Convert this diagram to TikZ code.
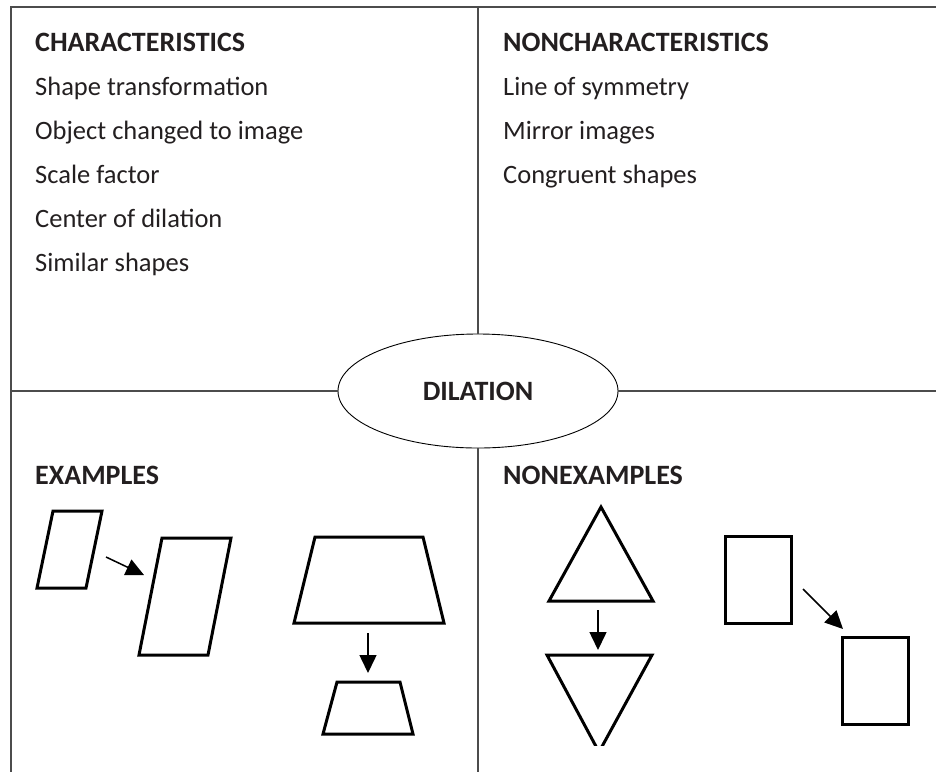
\documentclass[tikz,border=0pt]{standalone}
\usepackage{fontspec}
\setmainfont{Carlito}
\usetikzlibrary{arrows.meta}
\usetikzlibrary{shapes.geometric}

\definecolor{ink}{HTML}{231F20}
\tikzset{
  frameline/.style={draw=black!70,line width=1.3pt},
  head/.style={anchor=base west,inner sep=0pt,text=ink,font=\bfseries\fontsize{28}{32}\selectfont},
  item/.style={anchor=base west,inner sep=0pt,text=ink,font=\fontsize{26.5}{30}\selectfont},
  fig/.style={draw=black,line width=3pt},
  go/.style={line width=1.5pt,-{Triangle[length=18pt,width=17pt]}},
}

\begin{document}
\begin{tikzpicture}[x=1pt,y=-1pt]
\useasboundingbox (0,0) rectangle (936,772);

\node[ellipse,draw=black,line width=0.9pt,minimum width=280pt,minimum height=114pt,inner sep=0pt,
  text=ink,font=\bfseries\fontsize{28}{32}\selectfont] (dil) at (478,391) {DILATION};

\coordinate (tl) at (11,7);
\coordinate (tr) at (936,7);
\coordinate (bl) at (11,772);
\coordinate (tm) at (478,7);
\coordinate (bm) at (478,772);
\coordinate (ml) at (11,391);
\coordinate (mr) at (936,391);

\draw[frameline] (tr) -- (tl) -- (bl);
\draw[frameline] (tm) -- (dil.north);
\draw[frameline] (dil.south) -- (bm);
\draw[frameline] (ml) -- (dil.west);
\draw[frameline] (dil.east) -- (mr);

% quadrant headings and lists
\node[head] (char) at (35,51) {CHARACTERISTICS};
\foreach \t [count=\i] in {Shape transformation,Object changed to image,Scale factor,Center of dilation,Similar shapes}
  \node[item] (c\i) at (35,51+44*\i) {\t};

\node[head] (nonchar) at (503,51) {NONCHARACTERISTICS};
\foreach \t [count=\i] in {Line of symmetry,Mirror images,Congruent shapes}
  \node[item] (n\i) at (503,51+44*\i) {\t};

\node[head] (ex) at (35,484) {EXAMPLES};
\node[head] (nonex) at (503,484) {NONEXAMPLES};

% examples
\draw[fig] (53,511) -- (102,511) -- (86,588) -- (37,588) -- cycle;
\draw[fig] (162,538) -- (231,538) -- (208,655) -- (139,655) -- cycle;
\coordinate (p1) at (106,557);
\coordinate (p2) at (144,575);
\draw[go] (p1) -- (p2);

\draw[fig] (315,537) -- (423,537) -- (444,623) -- (294,623) -- cycle;
\draw[fig] (337,682) -- (400,682) -- (413,734) -- (323,734) -- cycle;
\coordinate (q1) at (368,633);
\coordinate (q2) at (368,673);
\draw[go] (q1) -- (q2);

% nonexamples
\draw[fig] (601,507) -- (653,601) -- (549,601) -- cycle;
\begin{scope}
  \clip (520,640) rectangle (680,745);
  \draw[fig] (547,655) -- (652,655) -- (599,752) -- cycle;
\end{scope}
\coordinate (r1) at (598,610);
\coordinate (r2) at (598,650);
\draw[go] (r1) -- (r2);

\draw[fig] (725,536) rectangle (791,623);
\draw[fig] (842,637) rectangle (908,724);
\coordinate (s1) at (803,589);
\coordinate (s2) at (843,629);
\draw[go] (s1) -- (s2);
\end{tikzpicture}
\end{document}
